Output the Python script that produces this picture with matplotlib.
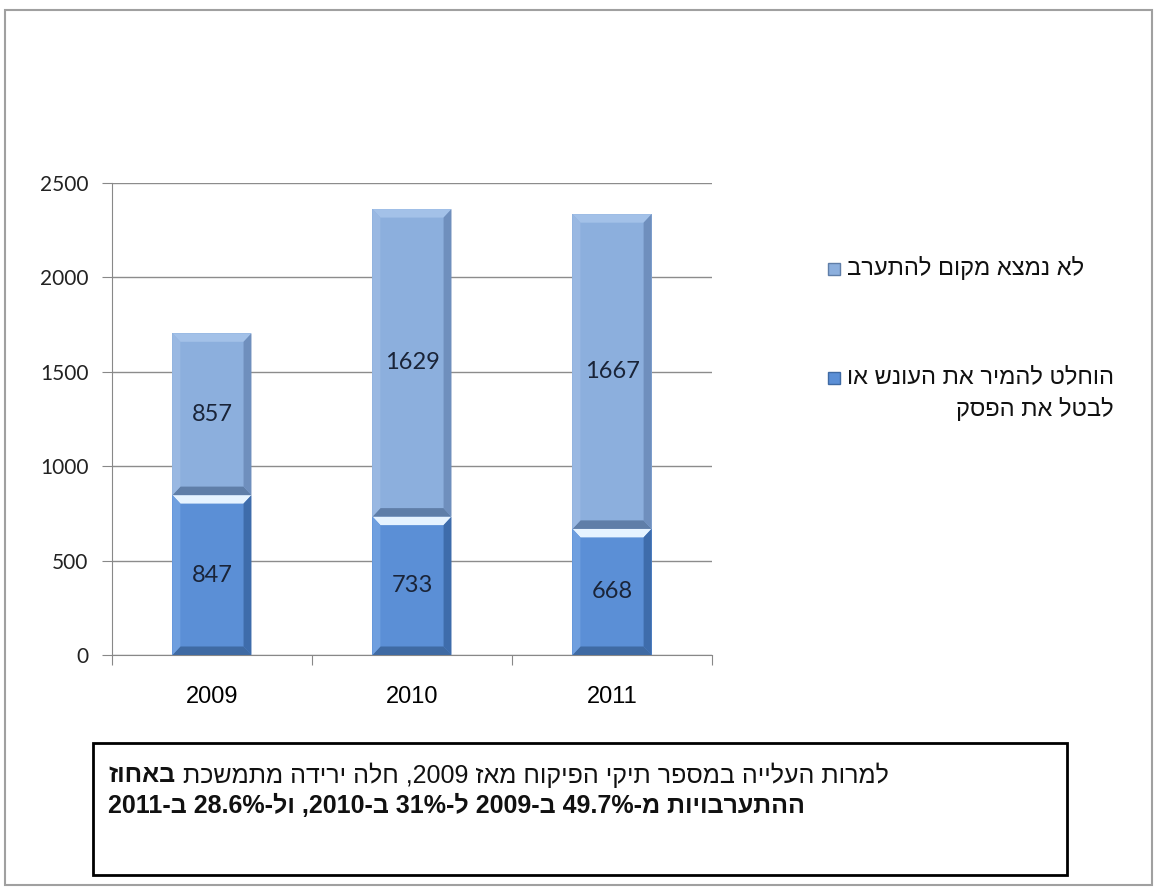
import re
import matplotlib.pyplot as plt
from matplotlib.patches import Polygon, Rectangle

years = ['2009', '2010', '2011']
changed = [847, 733, 668]          # הוחלט להמיר את העונש או לבטל את הפסק
no_intervene = [857, 1629, 1667]   # לא נמצא מקום להתערב
series_names = ['לא נמצא מקום להתערב', 'הוחלט להמיר את העונש או\nלבטל את הפסק']
note_bold_word = 'באחוז'
note_line1 = 'למרות העלייה במספר תיקי הפיקוח מאז 2009, חלה ירידה מתמשכת'
note_line2 = 'ההתערבויות מ-49.7% ב-2009 ל-31% ב-2010, ול-28.6% ב-2011'

SANS = ['Liberation Sans', 'DejaVu Sans']


def visual(s):
    # matplotlib has no bidi: flip the RTL string, keep numbers left-to-right
    out = []
    for line in s.split('\n'):
        r = line[::-1]
        out.append(re.sub(r'%?[0-9]+(?:\.[0-9]+)?', lambda m: m.group(0)[::-1], r))
    return '\n'.join(out)


def bevel_bar(ax, x, bottom, height, width, face, light, dark, side):
    ax.bar(x, height, width, bottom=bottom, color=face, edgecolor='none', zorder=3)
    x0, x1 = x - width / 2, x + width / 2
    y0, y1 = bottom, bottom + height
    bx, by = width * 0.1, 45
    top = [(x0, y1), (x1, y1), (x1 - bx, y1 - by), (x0 + bx, y1 - by)]
    bot = [(x0, y0), (x1, y0), (x1 - bx, y0 + by), (x0 + bx, y0 + by)]
    left = [(x0, y0), (x0, y1), (x0 + bx, y1 - by), (x0 + bx, y0 + by)]
    right = [(x1, y0), (x1, y1), (x1 - bx, y1 - by), (x1 - bx, y0 + by)]
    ax.add_patch(Polygon(top, closed=True, color=light, lw=0, zorder=4))
    ax.add_patch(Polygon(bot, closed=True, color=dark, lw=0, zorder=4))
    ax.add_patch(Polygon(left, closed=True, color=side[0], lw=0, zorder=4))
    ax.add_patch(Polygon(right, closed=True, color=side[1], lw=0, zorder=4))


fig = plt.figure(figsize=(11.54, 8.92), dpi=100)
fig.patch.set_facecolor('white')
ax = fig.add_axes([0.097, 0.2657, 0.520, 0.5291])

xs = range(len(years))
for i in xs:
    bevel_bar(ax, i, 0, changed[i], 0.395, '#5b8fd6', '#e6f3ff', '#3f6aa3',
              ('#6f9fdf', '#3e6cab'))
    bevel_bar(ax, i, changed[i], no_intervene[i], 0.395, '#8cafdd', '#a3c1e8', '#5f7ea8',
              ('#99b8e2', '#6f8fbd'))
    ax.text(i, changed[i] / 2, str(changed[i]), ha='center', va='center',
            fontsize=17, color='#1a2438', family='Lato', zorder=5)
    ax.text(i, changed[i] + no_intervene[i] / 2, str(no_intervene[i]), ha='center',
            va='center', fontsize=17, color='#1a2438', family='Lato', zorder=5)

ax.set_xlim(-0.5, 2.5)
ax.set_ylim(0, 2500)
ax.set_yticks(range(0, 2501, 500))
ax.set_xticks([0.5 * k - 0.5 for k in range(0, 7, 2)])
ax.set_xticklabels([])
ax.set_xticks(list(xs), minor=True)
ax.set_xticklabels(years, minor=True)
ax.tick_params(axis='x', which='minor', length=0, pad=22, labelsize=17)
ax.tick_params(axis='x', which='major', length=7, color='#888888')
ax.tick_params(axis='y', length=7, color='#888888', labelsize=15, pad=10)
for lab in ax.get_xticklabels(minor=True):
    lab.set_family(SANS)
for lab in ax.get_yticklabels():
    lab.set_family('Lato')
    lab.set_color('#222222')
ax.grid(axis='y', color='#8c8c8c', lw=1, zorder=1)
for s in ('top', 'right'):
    ax.spines[s].set_visible(False)
for s in ('left', 'bottom'):
    ax.spines[s].set_color('#888888')

fig.canvas.draw()
renderer = fig.canvas.get_renderer()
inv = fig.transFigure.inverted()

# legend (drawn by hand, right-to-left text)
mx = 0.7175
for name, face, edge, my in [(series_names[0], '#8cafdd', '#5f7ea8', 0.699),
                             (series_names[1], '#5b8fd6', '#3f6aa3', 0.577)]:
    fig.add_artist(Rectangle((mx, my - 0.0075), 0.0105, 0.0135, transform=fig.transFigure,
                             facecolor=face, edgecolor=edge, lw=1))
    lines = name.split('\n')
    t0 = fig.text(mx + 0.0165, my, visual(lines[0]), ha='left', va='center', fontsize=17,
                  family=SANS, color='#111111')
    right = t0.get_window_extent(renderer).transformed(inv).x1
    for k, ln in enumerate(lines[1:], start=1):
        fig.text(right, my - 0.035 * k, visual(ln), ha='right', va='center',
                 fontsize=17, family=SANS, color='#111111')

# note box
fig.add_artist(Rectangle((0.0806, 0.019), 0.844, 0.148, transform=fig.transFigure,
                         facecolor='white', edgecolor='black', lw=2))
tb = fig.text(0.094, 0.131, visual(note_bold_word), ha='left', va='center', fontsize=18,
              fontweight='bold', family=SANS, color='#111111')
bb = tb.get_window_extent(renderer).transformed(inv)
fig.text(bb.x1 + 0.006, 0.131, visual(note_line1), ha='left', va='center', fontsize=18,
         family=SANS, color='#111111')
fig.text(0.094, 0.096, visual(note_line2), ha='left', va='center', fontsize=18,
         fontweight='bold', family=SANS, color='#111111')

# outer frame
fig.add_artist(Rectangle((0.004, 0.008), 0.994, 0.981, transform=fig.transFigure,
                         facecolor='none', edgecolor='#a0a0a0', lw=1.5))

fig.savefig('out.png', dpi=100)
